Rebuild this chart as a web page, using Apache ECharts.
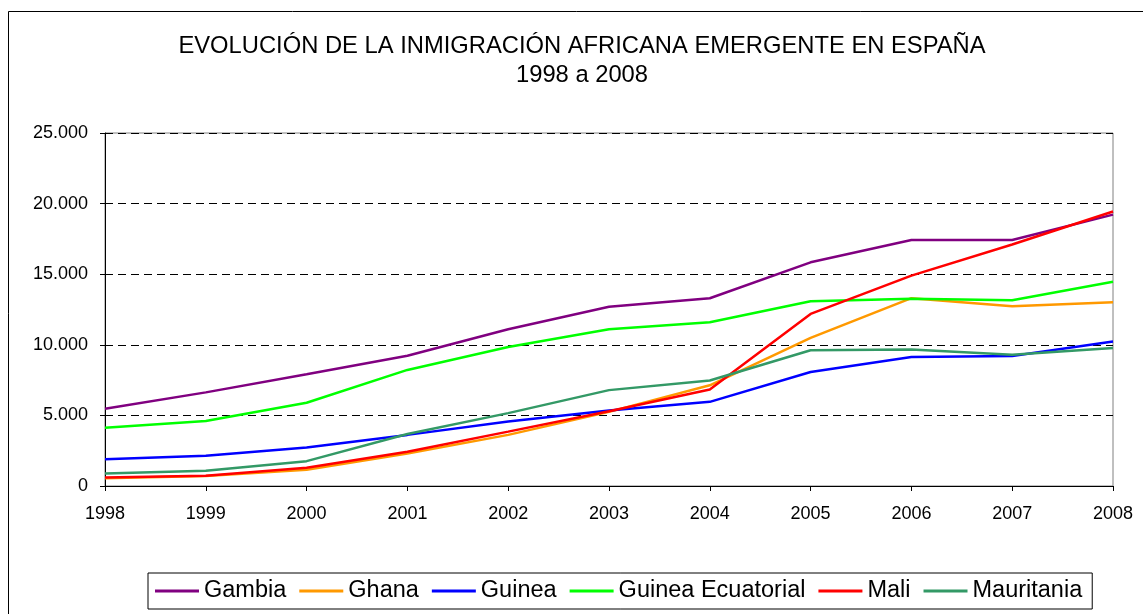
<!DOCTYPE html>
<html>
<head>
<meta charset="utf-8">
<title>Inmigración africana emergente</title>
<script src="https://cdn.jsdelivr.net/npm/echarts@6/dist/echarts.min.js"></script>
<style>
  html, body { margin: 0; padding: 0; background: #fff; }
  #chart { width: 1143px; height: 614px; }
</style>
</head>
<body>
<div id="chart"></div>
<script>
// años
var years = ['1998', '1999', '2000', '2001', '2002', '2003', '2004', '2005', '2006', '2007', '2008'];

// valores
var gambia = [5470, 6630, 7910, 9230, 11100, 12700, 13300, 15840, 17420, 17420, 19220];
var ghana = [550, 700, 1150, 2300, 3620, 5250, 7130, 10490, 13300, 12730, 13020];
var guinea = [1900, 2140, 2730, 3620, 4560, 5350, 5960, 8070, 9140, 9210, 10230];
var guineaEcuatorial = [4130, 4600, 5900, 8220, 9840, 11100, 11600, 13090, 13260, 13160, 14470];
var mali = [600, 720, 1290, 2420, 3850, 5300, 6840, 12190, 14900, 17100, 19440];
var mauritania = [890, 1080, 1760, 3680, 5160, 6790, 7470, 9610, 9660, 9300, 9780];

var yTicks = [0, 5000, 10000, 15000, 20000, 25000];

function fmt(v) {
    return String(v).replace(/\B(?=(\d{3})+(?!\d))/g, '.');
}

var chart = echarts.init(document.getElementById('chart'));

function line(name, data, color) {
    return {
        name: name,
        type: 'line',
        data: data,
        symbol: 'none',
        lineStyle: { color: color, width: 2.5 },
        itemStyle: { color: color }
    };
}

chart.setOption({
    animation: false,
    textStyle: { fontFamily: 'Liberation Sans, Arial, sans-serif' },
    graphic: [{
        type: 'rect',
        shape: { x: 8.5, y: 11.5, width: 1150, height: 620 },
        style: { fill: 'none', stroke: '#000', lineWidth: 1 },
        silent: true
    }],
    title: {
        text: 'EVOLUCIÓN DE LA INMIGRACIÓN AFRICANA EMERGENTE EN ESPAÑA\n1998 a 2008',
        left: 577,
        textAlign: 'center',
        top: 27,
        textStyle: {
            fontSize: 23.75,
            fontWeight: 'normal',
            color: '#000',
            lineHeight: 29,
            fontFamily: 'Liberation Sans, Arial, sans-serif'
        }
    },
    legend: {
        left: 148,
        top: 573,
        width: 960,
        padding: [6, 10, 6, 7],
        borderColor: '#000',
        borderWidth: 1,
        itemWidth: 44,
        itemHeight: 3,
        itemGap: 13,
        icon: 'rect',
        textStyle: { fontSize: 23.5, color: '#000' },
        data: ['Gambia', 'Ghana', 'Guinea', 'Guinea Ecuatorial', 'Mali', 'Mauritania']
    },
    grid: {
        left: 105,
        right: 30,
        top: 133,
        height: 353,
        show: true,
        borderColor: '#808080',
        borderWidth: 1,
        backgroundColor: 'transparent'
    },
    xAxis: {
        type: 'category',
        data: years,
        boundaryGap: false,
        axisLine: { lineStyle: { color: '#000', width: 1 } },
        axisTick: { show: true, length: 5, lineStyle: { color: '#000' }, alignWithLabel: true },
        axisLabel: { color: '#000', fontSize: 18, margin: 19 }
    },
    yAxis: {
        type: 'value',
        min: 0,
        max: 25000,
        interval: 5000,
        axisLine: { show: true, lineStyle: { color: '#000', width: 1 } },
        axisTick: { show: true, length: 5, lineStyle: { color: '#000' } },
        axisLabel: {
            color: '#000',
            fontSize: 18,
            margin: 17,
            formatter: function (v) { return yTicks.indexOf(v) >= 0 ? fmt(v) : ''; }
        },
        splitLine: { show: true, lineStyle: { color: '#000', type: [8, 5], width: 1 } }
    },
    series: [
        line('Gambia', gambia, '#800080'),
        line('Ghana', ghana, '#FF9900'),
        line('Guinea', guinea, '#0000FF'),
        line('Guinea Ecuatorial', guineaEcuatorial, '#00FF00'),
        line('Mali', mali, '#FF0000'),
        line('Mauritania', mauritania, '#339966')
    ]
});
</script>
</body>
</html>
